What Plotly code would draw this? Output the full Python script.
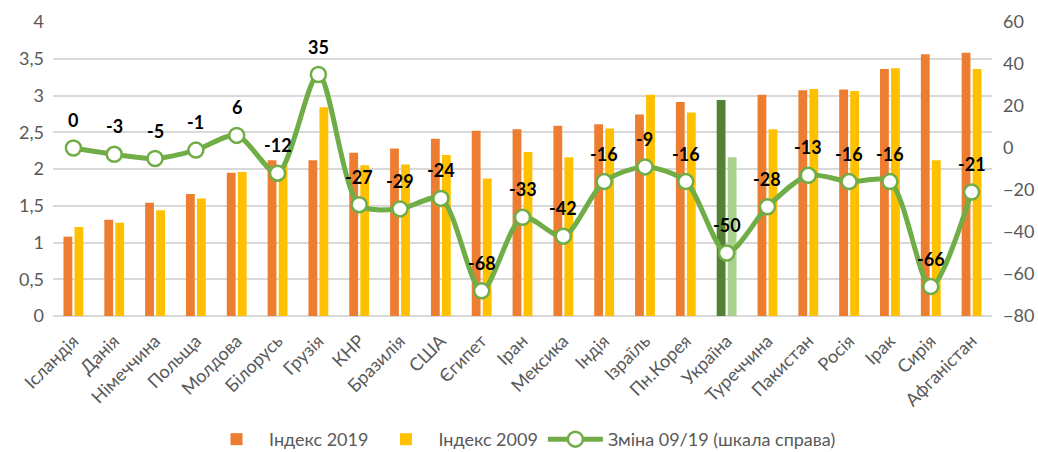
import plotly.graph_objects as go

countries = ["Ісландія", "Данія", "Німеччина", "Польща", "Молдова", "Білорусь", "Грузія",
             "КНР", "Бразилія", "США", "Єгипет", "Іран", "Мексика", "Індія", "Ізраїль",
             "Пн.Корея", "Україна", "Туреччина", "Пакистан", "Росія", "Ірак", "Сирія",
             "Афганістан"]
index_2019 = [1.08, 1.31, 1.54, 1.66, 1.95, 2.12, 2.12, 2.22, 2.28, 2.41, 2.52, 2.54, 2.59,
              2.61, 2.74, 2.91, 2.94, 3.01, 3.07, 3.08, 3.36, 3.56, 3.58]
index_2009 = [1.21, 1.27, 1.44, 1.60, 1.96, 2.05, 2.84, 2.05, 2.06, 2.19, 1.87, 2.23, 2.16,
              2.55, 3.01, 2.77, 2.16, 2.54, 3.09, 3.06, 3.37, 2.12, 3.36]
change = [0, -3, -5, -1, 6, -12, 35, -27, -29, -24, -68, -33, -42, -16, -9, -16, -50, -28,
          -13, -16, -16, -66, -21]
highlight = "Україна"

FONT = "Lato, Open Sans, sans-serif"
c2019 = ["#548235" if c == highlight else "#ED7D31" for c in countries]
c2009 = ["#A9D18E" if c == highlight else "#FFC000" for c in countries]

fig = go.Figure()
fig.add_trace(go.Bar(x=countries, y=index_2019, name="Індекс 2019",
                     marker=dict(color=c2019, line=dict(width=0))))
fig.add_trace(go.Bar(x=countries, y=index_2009, name="Індекс 2009",
                     marker=dict(color=c2009, line=dict(width=0))))
fig.add_trace(go.Scatter(x=countries, y=change, name="Зміна 09/19 (шкала справа)", yaxis="y2",
                         mode="lines+markers",
                         line=dict(color="#70AD47", width=5, shape="spline", smoothing=0.8),
                         marker=dict(size=15, color="white", line=dict(color="#70AD47", width=2.5)),
                         cliponaxis=False))

for c, v in zip(countries, change):
    fig.add_annotation(x=c, y=v, yref="y2", text=f"<b>{v}</b>", showarrow=False,
                       yshift=28, font=dict(family=FONT, size=18, color="black"))

fig.update_layout(
    width=1038, height=452,
    margin=dict(l=53, r=46, t=22, b=136, autoexpand=False),
    paper_bgcolor="white", plot_bgcolor="white",
    separators=", ",
    barmode="group", bargap=0.46, bargroupgap=0.2,
    font=dict(family=FONT, size=18, color="#595959"),
    xaxis=dict(tickangle=-45, tickfont=dict(size=18, color="#595959"), showgrid=False,
               showline=False, ticks="", automargin=False, ticklabelstandoff=10,
               range=[-0.5, len(countries) - 0.5]),
    yaxis=dict(range=[0, 4], dtick=0.5, showgrid=True, gridcolor="#D9D9D9", gridwidth=1.5,
               zeroline=True, zerolinecolor="#D9D9D9", zerolinewidth=1.5,
               tickfont=dict(size=18), ticks="", automargin=False, ticklabelstandoff=8),
    yaxis2=dict(range=[-80, 60], dtick=20, overlaying="y", side="right", showgrid=False,
                zeroline=False, tickfont=dict(size=18), ticks="", automargin=False,
                ticklabelstandoff=10),
    legend=dict(orientation="h", x=0.5, xanchor="center", y=-0.42, yanchor="middle",
                font=dict(size=18, color="#595959"), traceorder="normal", itemwidth=55),
    showlegend=True,
)

fig.write_html("out.html", config={"displayModeBar": False},
               post_script="document.body.style.margin='0';")
